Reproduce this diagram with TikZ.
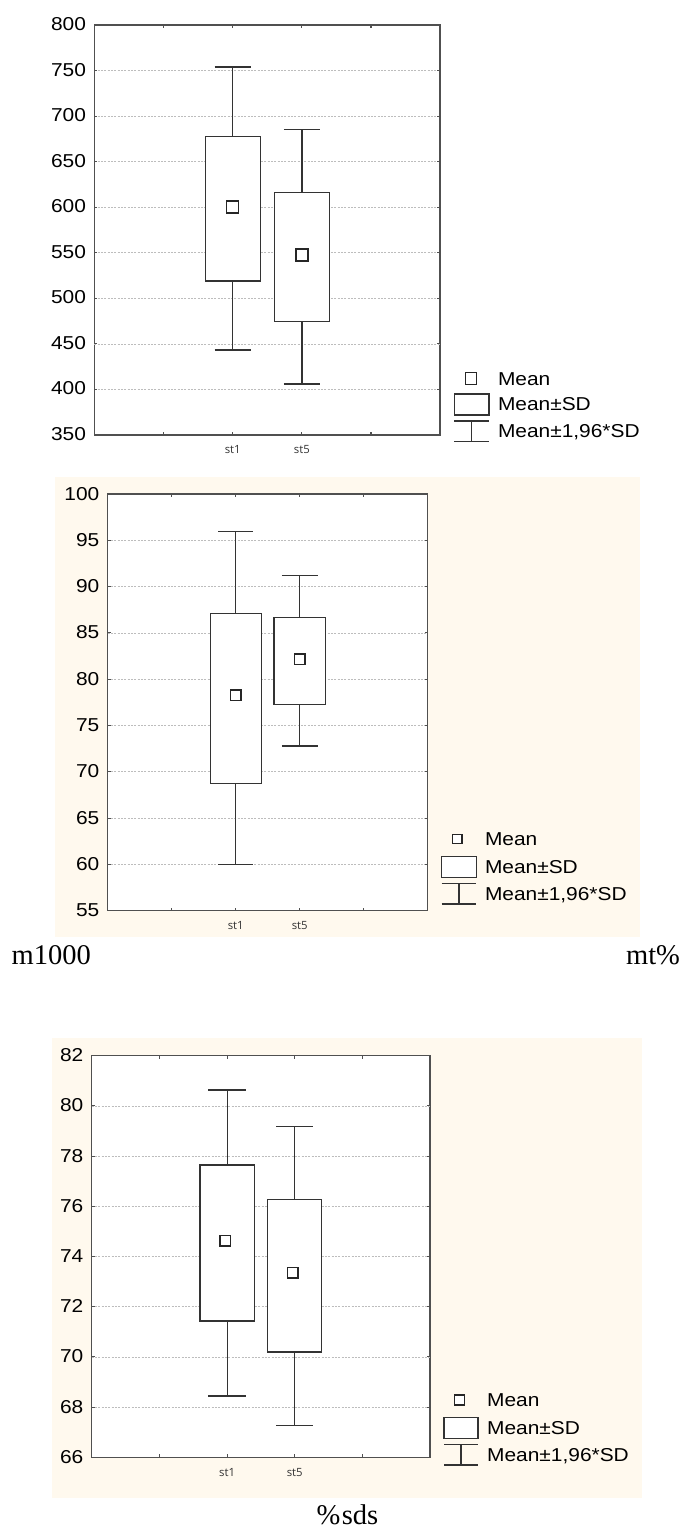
\documentclass[tikz,border=0pt]{standalone}
\usepackage{fontspec}
\setmainfont{Liberation Serif}
\newfontfamily\plotfont[FakeStretch=1.12]{Liberation Sans}
\newfontfamily\catfont{Open Sans}
\definecolor{panelbg}{HTML}{FFF9EE}
\definecolor{axisgray}{HTML}{505050}
\definecolor{gridgray}{HTML}{BDBDBD}

\begin{document}
\begin{tikzpicture}
        [x=0.75pt, y=-0.75pt,
         every node/.style={inner sep=0, outer sep=0},
         ylab/.style={anchor=base east, font=\plotfont\fontsize{14}{16}\selectfont},
         leglab/.style={anchor=base west, font=\plotfont\fontsize{14}{16}\selectfont},
         catlab/.style={font=\catfont\fontsize{8.5}{10}\selectfont, text=black!80},
         varname/.style={font=\fontsize{21.4}{24}\selectfont},
         bgpanel/.style={fill=panelbg},
         plotframe/.style={draw=axisgray, fill=white, line width=1.1pt},
         tickmark/.style={draw=axisgray, line width=0.8pt},
         gridline/.style={draw=gridgray, line width=0.6pt, dash pattern=on 1.5pt off 1pt},
         sdbox/.style={draw=black!80, fill=white, line width=0.9pt},
         whisker/.style={draw=black!80, line width=0.9pt},
         meanmark/.style={draw=black!85, fill=white, line width=0.9pt, rectangle, minimum size=#1}]

        \useasboundingbox (0,0) rectangle (682,1528);

        % m1000
        \draw[plotframe] (94.4,25) rectangle (440.2,435);
        \foreach \k in {1,...,8} {
          \draw[gridline] (94.4,{25+45.56*\k}) -- (440.2,{25+45.56*\k});
          \draw[tickmark] (94.4,{25+45.56*\k}) -- ++(3,0);
          \draw[tickmark] (440.2,{25+45.56*\k}) -- ++(-3,0);
        }
        \foreach \x in {163.5,232.7,301.9,371} {
          \draw[tickmark] (\x,25) -- ++(0,3);
          \draw[tickmark] (\x,435) -- ++(0,-3);
        }
        \foreach \v [count=\k from 0] in {800,750,...,350}
          \node[ylab] (ya\v) at (86,{25+45.56*\k+5.5}) {\v};

        \draw[whisker] (232.7,67) -- (232.7,350) (214.7,67) -- (250.7,67) (214.7,350) -- (250.7,350);
        \draw[sdbox] (205.2,136.7) rectangle (260.2,281);
        \node[meanmark=9pt] (ma1) at (232.7,207) {};
        \draw[whisker] (301.9,129.7) -- (301.9,384) (283.9,129.7) -- (319.9,129.7) (283.9,384) -- (319.9,384);
        \draw[sdbox] (274.4,192.3) rectangle (329.4,321.7);
        \node[meanmark=9pt] (ma5) at (301.9,255) {};
        \node[catlab] (ca1) at (232.7,450) {st1};
        \node[catlab] (ca5) at (301.9,450) {st5};

        \node[meanmark=8.5pt] (la1) at (471,378.5) {};
        \node[leglab] (lta1) at (498,385.7) {Mean};
        \draw[sdbox] (454.3,394) rectangle (489,415);
        \node[leglab] (lta2) at (498,410.5) {Mean±SD};
        \draw[whisker] (454.3,421) -- (489,421) (471.7,421) -- (471.7,441.7) (454.3,441.7) -- (489,441.7);
        \node[leglab] (lta3) at (498,437.3) {Mean±1,96*SD};

        % mt%
        \fill[bgpanel] (55,477.3) rectangle (640,936.7);
        \draw[plotframe] (107.7,494) rectangle (427.7,910.7);
        \foreach \k in {1,...,8} {
          \draw[gridline] (107.7,{494+46.3*\k}) -- (427.7,{494+46.3*\k});
          \draw[tickmark] (107.7,{494+46.3*\k}) -- ++(3,0);
          \draw[tickmark] (427.7,{494+46.3*\k}) -- ++(-3,0);
        }
        \foreach \x in {171.7,235.7,299.7,363.7} {
          \draw[tickmark] (\x,494) -- ++(0,3);
          \draw[tickmark] (\x,910.7) -- ++(0,-3);
        }
        \foreach \v [count=\k from 0] in {100,95,...,55}
          \node[ylab] (yb\v) at (99.3,{494+46.3*\k+6}) {\v};

        \draw[whisker] (235.7,531.7) -- (235.7,864.3) (218.2,531.7) -- (253.2,531.7) (218.2,864.3) -- (253.2,864.3);
        \draw[sdbox] (210.2,613.3) rectangle (261.2,783.3);
        \node[meanmark=8pt] (mb1) at (235.7,695.3) {};
        \draw[whisker] (299.7,575.7) -- (299.7,746) (281.9,575.7) -- (317.5,575.7) (281.9,746) -- (317.5,746);
        \draw[sdbox] (274,617.3) rectangle (325.4,704.3);
        \node[meanmark=8pt] (mb5) at (299.7,659.3) {};
        \node[catlab] (cb1) at (235.7,925.7) {st1};
        \node[catlab] (cb5) at (299.7,925.7) {st5};

        \node[meanmark=7pt] (lb1) at (457.3,839.2) {};
        \node[leglab] (ltb1) at (485,845.7) {Mean};
        \draw[sdbox] (441.7,856.7) rectangle (476.3,877.3);
        \node[leglab] (ltb2) at (485,873.5) {Mean±SD};
        \draw[whisker] (441.7,883.3) -- (476.3,883.3) (459,883.3) -- (459,904) (441.7,904) -- (476.3,904);
        \node[leglab] (ltb3) at (485,900.2) {Mean±1,96*SD};

        \node[varname, anchor=base west] (nm1) at (11.7,964) {m1000};
        \node[varname, anchor=base east] (nm2) at (680,964) {mt\%};

        % %sds
        \fill[bgpanel] (51.7,1038.3) rectangle (641.6,1498.3);
        \draw[plotframe] (91.7,1055.7) rectangle (430,1457.3);
        \foreach \k in {1,...,7} {
          \draw[gridline] (91.7,{1055.7+50.2*\k}) -- (430,{1055.7+50.2*\k});
          \draw[tickmark] (91.7,{1055.7+50.2*\k}) -- ++(3,0);
          \draw[tickmark] (430,{1055.7+50.2*\k}) -- ++(-3,0);
        }
        \foreach \x in {159.4,227.1,294.7,362.4} {
          \draw[tickmark] (\x,1055.7) -- ++(0,3);
          \draw[tickmark] (\x,1457.3) -- ++(0,-3);
        }
        \foreach \v [count=\k from 0] in {82,80,...,66}
          \node[ylab] (yc\v) at (83.3,{1055.7+50.2*\k+6}) {\v};

        \draw[whisker] (227.1,1090) -- (227.1,1396) (208.4,1090) -- (245.8,1090) (208.4,1396) -- (245.8,1396);
        \draw[sdbox] (200,1165) rectangle (254.3,1321);
        \node[meanmark=8pt] (mc1) at (225.4,1240.7) {};
        \draw[whisker] (294.7,1126.3) -- (294.7,1425.3) (276,1126.3) -- (313.4,1126.3) (276,1425.3) -- (313.4,1425.3);
        \draw[sdbox] (267.7,1199.7) rectangle (321.7,1352);
        \node[meanmark=8pt] (mc5) at (292.7,1272.7) {};
        \node[catlab] (cc1) at (227.1,1472.7) {st1};
        \node[catlab] (cc5) at (294.7,1472.7) {st5};

        \node[meanmark=7.5pt] (lc1) at (459.5,1400) {};
        \node[leglab] (ltc1) at (487.2,1406.5) {Mean};
        \draw[sdbox] (444,1417.3) rectangle (478,1438.3);
        \node[leglab] (ltc2) at (487.2,1434.3) {Mean±SD};
        \draw[whisker] (444,1444.3) -- (478,1444.3) (461,1444.3) -- (461,1465) (444,1465) -- (478,1465);
        \node[leglab] (ltc3) at (487.2,1461.2) {Mean±1,96*SD};

        \node[varname, anchor=base west] (nm3) at (316.7,1524) {\%\kern1pt sds};
      \end{tikzpicture}
\end{document}
